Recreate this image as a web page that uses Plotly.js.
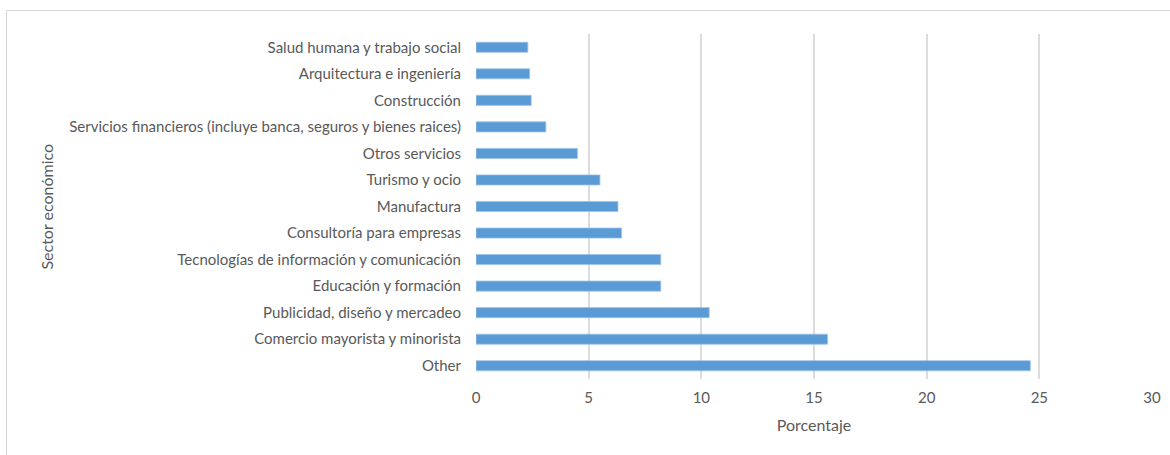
<!DOCTYPE html>
<html>
<head>
<meta charset="utf-8">
<script src="https://cdn.plot.ly/plotly-3.0.1.min.js"></script>
<style>
  html, body { margin: 0; padding: 0; background: #fff; }
  #wrap { position: relative; width: 1170px; height: 455px; overflow: hidden; }
  #frame { position: absolute; left: 6px; top: 10px; width: 1200px; height: 500px;
           border-top: 1.5px solid #d9d9d9; border-left: 1.5px solid #d9d9d9; pointer-events: none; }
  #chart { position: absolute; left: 0; top: 0; width: 1170px; height: 455px; }
</style>
</head>
<body>
<div id="wrap">
  <div id="chart"></div>
  <div id="frame"></div>
</div>
<script>
const categories = [
  "Other",
  "Comercio mayorista y minorista",
  "Publicidad, diseño y mercadeo",
  "Educación y formación",
  "Tecnologías de información y comunicación",
  "Consultoría para empresas",
  "Manufactura",
  "Turismo y ocio",
  "Otros servicios",
  "Servicios financieros (incluye banca, seguros y bienes raices)",
  "Construcción",
  "Arquitectura e ingeniería",
  "Salud humana y trabajo social"
];
const values = [24.6, 15.6, 10.35, 8.2, 8.2, 6.46, 6.3, 5.5, 4.5, 3.1, 2.45, 2.38, 2.3];
const xTicks = [0, 5, 10, 15, 20, 25, 30];
const xTitle = "Porcentaje";
const yTitle = "Sector económico";

const fontFam = "Lato, 'Open Sans', sans-serif";
const textColor = "#595959";

Plotly.newPlot("chart", [{
  type: "bar",
  orientation: "h",
  y: categories,
  x: values,
  marker: { color: "#5b9bd5", line: { color: "#9dc3e6", width: 0.8 } },
  hoverinfo: "x+y"
}], {
  width: 1170,
  height: 455,
  margin: { l: 476, r: 18, t: 34, b: 76 },
  paper_bgcolor: "#ffffff",
  plot_bgcolor: "#ffffff",
  bargap: 0.62,
  showlegend: false,
  font: { family: fontFam, size: 15, color: textColor },
  xaxis: {
    range: [0, 30],
    tickvals: xTicks,
    ticktext: xTicks.map(String),
    showgrid: true,
    gridcolor: "#dcdcdc",
    gridwidth: 2,
    zeroline: false,
    showline: false,
    ticks: "",
    ticklen: 0,
    ticklabelstandoff: 8,
    tickfont: { family: fontFam, size: 15, color: textColor },
    title: { text: xTitle, font: { family: fontFam, size: 16, color: textColor }, standoff: 14 },
    automargin: false,
    fixedrange: true
  },
  yaxis: {
    type: "category",
    categoryorder: "array",
    categoryarray: categories,
    showgrid: false,
    zeroline: false,
    showline: false,
    ticks: "",
    ticklabelstandoff: 14,
    tickfont: { family: fontFam, size: 15, color: textColor },
    automargin: false,
    fixedrange: true
  },
  annotations: [{
    text: yTitle,
    xref: "paper", yref: "paper",
    x: -0.636, y: 0.5,
    xanchor: "center", yanchor: "middle",
    textangle: -90,
    showarrow: false,
    font: { family: fontFam, size: 16, color: textColor }
  }]
}, { displayModeBar: false, staticPlot: true });
</script>
</body>
</html>
